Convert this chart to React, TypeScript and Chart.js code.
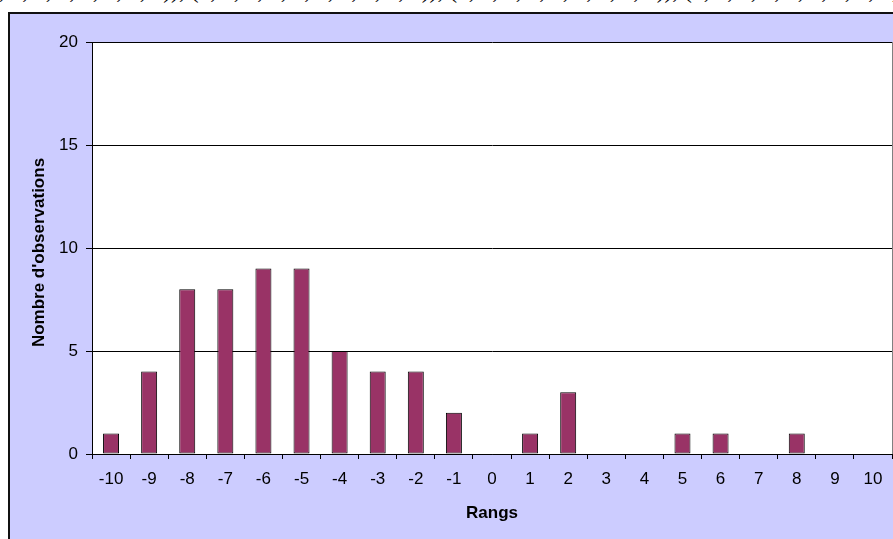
import React, { useEffect, useRef } from "react";
import { Chart, registerables } from "chart.js";

Chart.register(...registerables);

const categories = ["-10", "-9", "-8", "-7", "-6", "-5", "-4", "-3", "-2", "-1", "0", "1", "2", "3", "4", "5", "6", "7", "8", "9", "10"];
const counts = [1, 4, 8, 8, 9, 9, 5, 4, 4, 2, 0, 1, 3, 0, 0, 1, 1, 0, 1, 0, 0];
const yMin = 0;
const yMax = 20;
const yStep = 5;
const xTitle = "Rangs";
const yTitle = "Nombre d'observations";
const headerText = "0, 1, 1, 0, 1, 1, 1, 0)), (1, 1, 0, 1, 1, 1, 1, 0, 1, 0)), (1, 1, 0, 1, 1, 0, 1, 1, 0)), (0, 1, 1, 1, 1, 0, 1, 1, 0, 1)), (1, 0";

const FONT = "'Liberation Sans', Arial, sans-serif";

const plotDecor = {
  id: "plotDecor",
  beforeDraw(chart: any) {
    const { ctx, chartArea } = chart;
    ctx.save();
    ctx.fillStyle = "#ffffff";
    ctx.fillRect(chartArea.left, chartArea.top, chartArea.right - chartArea.left, chartArea.bottom - chartArea.top);
    ctx.restore();
  },
  afterDraw(chart: any) {
    const { ctx, chartArea } = chart;
    ctx.save();
    ctx.strokeStyle = "#808080";
    ctx.lineWidth = 1;
    ctx.beginPath();
    ctx.moveTo(chartArea.right + 0.5, chartArea.top);
    ctx.lineTo(chartArea.right + 0.5, chartArea.bottom);
    ctx.stroke();
    // y axis title
    const cy = (chartArea.top + chartArea.bottom) / 2 + 4.5;
    ctx.translate(39, cy);
    ctx.rotate(-Math.PI / 2);
    ctx.fillStyle = "#000000";
    ctx.font = "bold 17px " + FONT;
    ctx.textAlign = "center";
    ctx.textBaseline = "middle";
    ctx.fillText(yTitle, 0, 0);
    ctx.restore();
  },
};

export default function App() {
  const canvasRef = useRef<HTMLCanvasElement | null>(null);

  useEffect(() => {
    const canvas = canvasRef.current;
    if (!canvas) return;
    const chart = new Chart(canvas, {
      type: "bar",
      data: {
        labels: categories,
        datasets: [
          {
            data: counts,
            backgroundColor: "#993366",
            borderColor: "#000000",
            borderWidth: 1,
            borderSkipped: false,
            barPercentage: 0.42,
            categoryPercentage: 1,
          },
        ],
      },
      options: {
        responsive: false,
        animation: false,
        devicePixelRatio: 1,
        layout: { padding: { top: 42, left: 0, right: 1, bottom: 0 } },
        plugins: { legend: { display: false }, tooltip: { enabled: false } },
        scales: {
          x: {
            grid: { drawOnChartArea: false, color: "#000000", tickLength: 5, offset: true },
            border: { color: "#000000", width: 1 },
            ticks: { color: "#000000", font: { family: FONT, size: 17 }, padding: 10, maxRotation: 0, autoSkip: false },
            title: { display: true, text: xTitle, color: "#000000", font: { family: FONT, size: 17, weight: "bold" }, padding: { top: 0, bottom: 15 } },
            afterFit: (s: any) => { s.height = 85; },
          },
          y: {
            min: yMin,
            max: yMax,
            grid: { color: "#000000", tickLength: 6 },
            border: { color: "#000000", width: 1 },
            ticks: { stepSize: yStep, color: "#000000", font: { family: FONT, size: 17 }, padding: 8 },
            title: { display: false },
            afterFit: (s: any) => { s.width = 92; },
          },
        },
      },
      plugins: [plotDecor],
    });
    return () => chart.destroy();
  }, []);

  return (
    <div style={{ position: "absolute", left: 0, top: 0, width: 893, height: 539, overflow: "hidden", background: "#ffffff" }}>
      <div
        style={{
          position: "absolute",
          left: -13,
          top: -25.5,
          whiteSpace: "nowrap",
          fontFamily: "'Liberation Serif', 'Times New Roman', serif",
          fontSize: "23.5px",
          lineHeight: "30px",
          color: "#000000",
        }}
      >
        {headerText}
      </div>
      <div
        style={{
          position: "absolute",
          left: 8,
          top: 12,
          width: 920,
          height: 560,
          background: "#CCCCFF",
          borderLeft: "2px solid #111111",
          borderTop: "2px solid #111111",
          boxSizing: "border-box",
        }}
      />
      <canvas ref={canvasRef} width={893} height={539} style={{ position: "absolute", left: 0, top: 0, width: 893, height: 539 }} />
    </div>
  );
}
